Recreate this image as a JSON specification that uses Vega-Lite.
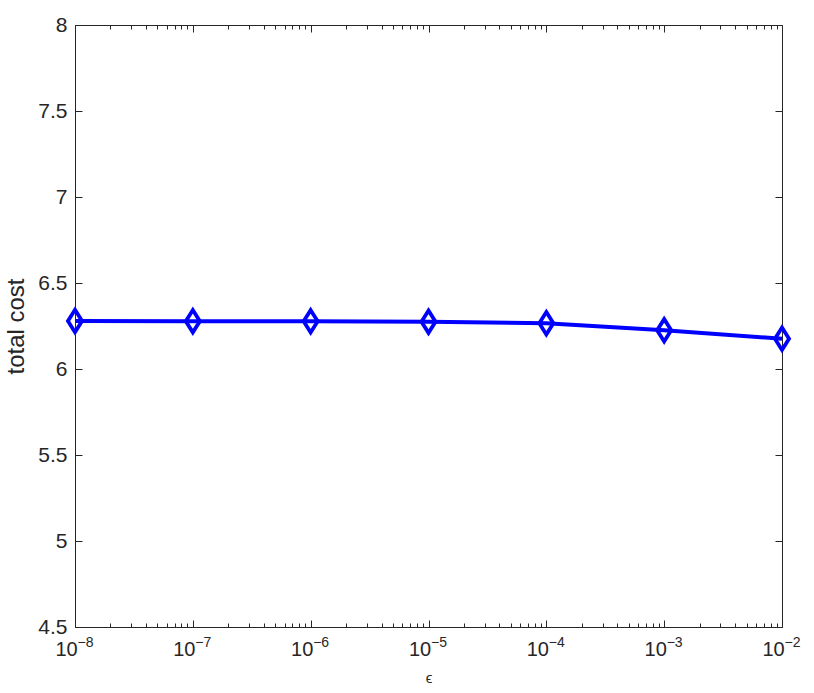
{
  "$schema": "https://vega.github.io/schema/vega-lite/v6.json",
  "width": 707,
  "height": 602,
  "autosize": {"type": "none"},
  "padding": {"left": 75, "top": 25, "right": 32, "bottom": 66},
  "background": "white",
  "config": {
    "view": {"stroke": "#262626", "strokeWidth": 1},
    "axis": {
      "grid": false,
      "domain": false,
      "labelFont": "Liberation Sans",
      "titleFont": "Liberation Sans",
      "labelColor": "#262626",
      "titleColor": "#262626",
      "tickColor": "#262626",
      "labelFlush": false,
      "labelOverlap": false,
      "titleFontWeight": "normal"
    }
  },
  "data": {
    "values": [
      {"eps": 1e-8, "cost": 6.279},
      {"eps": 1e-7, "cost": 6.278},
      {"eps": 1e-6, "cost": 6.277},
      {"eps": 1e-5, "cost": 6.275},
      {"eps": 1e-4, "cost": 6.266},
      {"eps": 1e-3, "cost": 6.225},
      {"eps": 1e-2, "cost": 6.176}
    ]
  },
  "resolve": {
    "scale": {"x": "shared", "y": "shared"},
    "axis": {"x": "independent", "y": "independent"}
  },
  "layer": [
    {
      "mark": {"type": "line", "color": "#0000FF", "strokeWidth": 4},
      "encoding": {
        "x": {
          "field": "eps", "type": "quantitative",
          "scale": {"type": "log", "domain": [1e-8, 1e-2], "nice": false},
          "axis": {
            "orient": "bottom",
            "values": [1e-8, 1e-7, 1e-6, 1e-5, 1e-4, 1e-3, 1e-2],
            "ticks": false,
            "labelExpr": "'10'",
            "labelFontSize": 20,
            "labelPadding": 12,
            "labelOffset": -9,
            "title": null
          }
        },
        "y": {
          "field": "cost", "type": "quantitative",
          "scale": {"domain": [4.5, 8], "zero": false, "nice": false},
          "axis": {
            "orient": "left",
            "values": [4.5, 5, 5.5, 6, 6.5, 7, 7.5, 8],
            "format": "~g",
            "ticks": false,
            "labelPadding": 8,
            "labelFontSize": 21,
            "title": null
          }
        }
      }
    },
    {
      "mark": {"type": "point", "shape": "M0,-1L0.63,0L0,1L-0.63,0Z", "size": 500, "filled": false, "color": "#0000FF", "strokeWidth": 3.8, "opacity": 1},
      "encoding": {
        "x": {
          "field": "eps", "type": "quantitative",
          "axis": {
            "orient": "bottom",
            "values": [1e-8, 1e-7, 1e-6, 1e-5, 1e-4, 1e-3, 1e-2],
            "ticks": false,
            "labelExpr": "format(round(log(datum.value)/LN10),'d')",
            "labelFontSize": 14,
            "labelPadding": 8,
            "labelOffset": 10,
            "title": null
          }
        },
        "y": {
          "field": "cost", "type": "quantitative",
          "axis": {
            "orient": "left",
            "values": [4.5, 5, 5.5, 6, 6.5, 7, 7.5, 8],
            "labels": false,
            "tickSize": -7,
            "title": "total cost",
            "titleFontSize": 24,
            "titlePadding": 46
          }
        }
      }
    },
    {
      "mark": {"type": "line", "opacity": 0},
      "encoding": {
        "x": {
          "field": "eps", "type": "quantitative",
          "axis": {
            "orient": "bottom",
            "values": [1e-8, 1e-7, 1e-6, 1e-5, 1e-4, 1e-3, 1e-2],
            "labels": false,
            "tickSize": -7,
            "title": null
          }
        },
        "y": {
          "field": "cost", "type": "quantitative",
          "axis": {
            "orient": "right",
            "values": [4.5, 5, 5.5, 6, 6.5, 7, 7.5, 8],
            "labels": false,
            "tickSize": -7,
            "title": null
          }
        }
      }
    },
    {
      "mark": {"type": "line", "opacity": 0},
      "encoding": {
        "x": {
          "field": "eps", "type": "quantitative",
          "axis": {
            "orient": "bottom",
            "values": [2e-8, 3e-8, 4e-8, 5e-8, 6e-8, 7e-8, 8e-8, 9e-8, 2e-7, 3e-7, 4e-7, 5e-7, 6e-7, 7e-7, 8e-7, 9e-7, 2e-6, 3e-6, 4e-6, 5e-6, 6e-6, 7e-6, 8e-6, 9e-6, 2e-5, 3e-5, 4e-5, 5e-5, 6e-5, 7e-5, 8e-5, 9e-5, 2e-4, 3e-4, 4e-4, 5e-4, 6e-4, 7e-4, 8e-4, 9e-4, 2e-3, 3e-3, 4e-3, 5e-3, 6e-3, 7e-3, 8e-3, 9e-3],
            "labels": false,
            "tickSize": -4,
            "title": "ϵ",
            "titleFontSize": 15,
            "titlePadding": 43
          }
        },
        "y": {"field": "cost", "type": "quantitative", "axis": null}
      }
    },
    {
      "mark": {"type": "line", "opacity": 0},
      "encoding": {
        "x": {
          "field": "eps", "type": "quantitative",
          "axis": {
            "orient": "top",
            "values": [1e-8, 1e-7, 1e-6, 1e-5, 1e-4, 1e-3, 1e-2],
            "labels": false,
            "tickSize": -7,
            "title": null
          }
        },
        "y": {"field": "cost", "type": "quantitative", "axis": null}
      }
    },
    {
      "mark": {"type": "line", "opacity": 0},
      "encoding": {
        "x": {
          "field": "eps", "type": "quantitative",
          "axis": {
            "orient": "top",
            "values": [2e-8, 3e-8, 4e-8, 5e-8, 6e-8, 7e-8, 8e-8, 9e-8, 2e-7, 3e-7, 4e-7, 5e-7, 6e-7, 7e-7, 8e-7, 9e-7, 2e-6, 3e-6, 4e-6, 5e-6, 6e-6, 7e-6, 8e-6, 9e-6, 2e-5, 3e-5, 4e-5, 5e-5, 6e-5, 7e-5, 8e-5, 9e-5, 2e-4, 3e-4, 4e-4, 5e-4, 6e-4, 7e-4, 8e-4, 9e-4, 2e-3, 3e-3, 4e-3, 5e-3, 6e-3, 7e-3, 8e-3, 9e-3],
            "labels": false,
            "tickSize": -4,
            "title": null
          }
        },
        "y": {"field": "cost", "type": "quantitative", "axis": null}
      }
    }
  ]
}
